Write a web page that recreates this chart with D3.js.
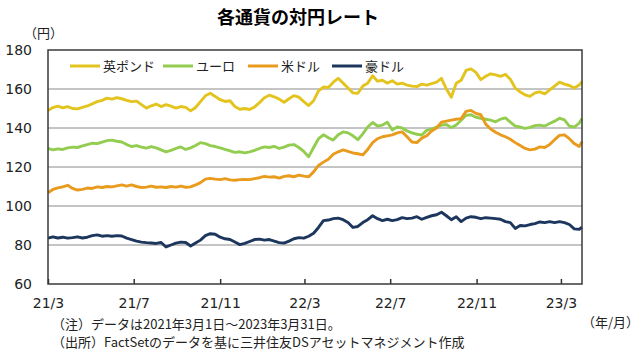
<!DOCTYPE html>
<html>
<head>
<meta charset="utf-8">
<script src="https://cdn.jsdelivr.net/npm/d3@7"></script>
<style>
  body { margin: 0; background: #fff; }
  svg { display: block; }
</style>
</head>
<body>
<svg id="chart"></svg>
<script>
// Weekly readings from 2021-03-01, last value is 2023-03-31
const startDate = new Date(2021, 2, 1);
const endDate = new Date(2023, 2, 31);

const seriesNames = ['英ポンド', 'ユーロ', '米ドル', '豪ドル'];

const gbp = [
  149.0, 150.5, 151.2, 150.3, 151.0, 150.0, 149.8, 150.6, 151.3, 152.4,
  153.5, 154.2, 155.3, 154.8, 155.6, 155.0, 154.2, 153.5, 153.8, 152.0,
  150.2, 151.4, 152.3, 151.0, 152.0, 151.2, 150.2, 151.0, 150.6, 148.8,
  150.5, 153.5, 156.5, 157.8, 156.2, 154.5, 153.6, 154.0, 151.0, 149.6,
  150.0, 149.5, 150.8, 153.0, 155.5, 156.8, 156.0, 154.8, 153.2, 155.0,
  156.6, 155.8, 153.5, 151.5, 154.0, 159.0, 161.0, 160.8, 163.5, 165.5,
  163.0, 160.5, 158.0, 157.8, 161.5, 163.0, 166.8, 164.0, 164.5, 163.0,
  164.2, 162.5, 163.0, 162.0, 161.5, 161.2, 162.5, 162.0, 162.8, 163.5,
  165.5, 160.0, 155.8, 163.0, 164.5, 169.5, 170.3, 168.5, 164.8, 166.5,
  167.8, 167.2, 166.5, 167.5, 165.0, 160.5, 158.5, 157.0, 156.2, 158.0,
  158.5, 157.5, 159.5, 161.5, 163.5, 162.5, 161.8, 160.5, 162.0, 163.8
];

const eur = [
  129.5, 128.8, 129.3, 129.0, 129.8, 130.2, 130.0, 130.8, 131.5, 132.2,
  132.0, 132.8, 133.5, 133.8, 133.2, 132.8, 131.5, 130.5, 131.0, 130.2,
  129.7, 130.5, 129.8, 128.8, 127.8, 128.5, 129.5, 130.3, 129.0, 129.8,
  131.0, 132.5, 132.0, 131.0, 130.5, 129.8, 129.0, 128.3, 127.5, 127.8,
  127.2, 127.8, 128.5, 129.5, 130.3, 130.0, 130.6, 129.5, 130.2, 131.2,
  131.5, 130.0, 128.0, 125.3, 130.0, 134.5, 136.5, 135.0, 133.8, 136.5,
  138.0, 137.5, 136.0, 134.0, 137.0, 140.5, 142.8, 141.0, 141.5, 143.0,
  139.0, 140.5, 140.0, 138.5, 137.5, 136.8, 136.4, 138.8, 139.5, 140.5,
  141.5, 141.8, 140.2, 141.5, 144.0, 146.5, 146.8, 145.5, 145.0, 144.5,
  144.0, 143.2, 144.5, 145.2, 143.0, 141.0, 140.5, 139.8, 140.3, 141.2,
  141.5, 141.0, 142.3, 143.5, 145.0, 144.2, 141.0, 140.5, 142.5, 144.8
];

const usd = [
  106.8, 108.5, 109.3, 109.8, 110.6, 109.0, 108.2, 108.5, 109.2, 109.0,
  109.8, 109.5, 110.0, 109.8, 110.3, 110.8, 110.2, 110.8, 110.0, 109.5,
  109.7, 110.2, 109.6, 109.8, 109.5, 110.0, 109.7, 110.2, 109.6, 109.8,
  110.8, 112.0, 113.8, 114.2, 113.8, 113.5, 114.0, 113.4, 113.2, 113.5,
  113.6, 113.5, 114.0, 114.5, 115.2, 114.8, 115.0, 114.3, 115.2, 115.5,
  115.0, 115.8, 115.3, 115.0, 117.5, 120.8, 122.5, 124.0, 126.5, 127.8,
  128.8, 128.0, 127.2, 126.8, 126.2, 129.0, 132.5, 134.5, 135.5, 136.0,
  136.5, 137.5, 138.0, 135.5, 132.8, 132.5, 134.8, 136.0, 138.5, 140.0,
  143.0, 143.5, 144.0, 144.5, 144.8, 148.5, 149.0, 147.5, 146.8, 142.0,
  139.5, 137.8, 136.5, 135.5, 134.2, 132.5, 131.0, 129.5, 128.8, 129.2,
  130.3, 130.0, 131.5, 134.0, 136.2, 136.5, 134.5, 132.0, 130.5, 133.0
];

const aud = [
  83.5, 84.2, 83.6, 84.0, 83.5, 83.8, 84.2, 83.6, 84.0, 84.8,
  85.2, 84.5, 84.8, 84.5, 84.8, 84.6, 83.5, 82.8, 82.0, 81.5,
  81.2, 81.0, 80.8, 81.3, 79.0, 80.0, 81.0, 81.5, 81.3, 79.5,
  81.0, 82.5, 84.8, 85.8, 85.5, 84.0, 83.2, 82.8, 81.5, 80.2,
  80.8, 81.8, 82.8, 83.0, 82.5, 82.8, 82.0, 81.2, 81.0, 82.0,
  83.2, 83.8, 83.5, 84.5, 86.0, 89.0, 92.5, 92.8, 93.5, 93.8,
  93.0, 91.5, 89.0, 89.5, 91.5, 93.0, 95.0, 93.5, 92.5, 93.2,
  92.5, 93.0, 94.0, 93.5, 93.8, 94.5, 93.2, 94.2, 95.0, 95.5,
  96.8, 95.0, 93.0, 94.5, 92.0, 93.8, 94.5, 94.2, 93.5, 94.0,
  93.8, 93.5, 93.2, 92.0, 91.5, 88.5, 90.0, 89.8, 90.5, 91.0,
  91.8, 91.5, 92.0, 91.5, 92.0, 91.5, 90.5, 88.3, 88.0, 89.2
];

const yTicks = [60, 80, 100, 120, 140, 160, 180];
const xTickDates = ['2021-03-01', '2021-07-01', '2021-11-01', '2022-03-01', '2022-07-01', '2022-11-01', '2023-03-01'];
const xTickLabels = ['21/3', '21/7', '21/11', '22/3', '22/7', '22/11', '23/3'];

const colors = ['#e3c41e', '#92cd50', '#e99b1e', '#1c365e'];

const W = 640, H = 353;
const plot = {left: 48, right: 582, top: 50, bottom: 284};
const jpFont = '"Noto Sans CJK JP", "Noto Sans", sans-serif';
const numFont = '"DejaVu Sans", sans-serif';

const svg = d3.select('#chart').attr('width', W).attr('height', H);

const dates = gbp.map((v, i) => i === gbp.length - 1 ? endDate : d3.timeDay.offset(startDate, i * 7));

const x = d3.scaleTime().domain([startDate, endDate]).range([plot.left, plot.right]);
const y = d3.scaleLinear().domain([60, 180]).range([plot.bottom, plot.top]);

// Title
svg.append('text')
    .attr('x', 298).attr('y', 24)
    .attr('text-anchor', 'middle')
    .style('font-family', jpFont)
    .style('font-size', '18px')
    .style('font-weight', 'bold')
    .text('各通貨の対円レート');

// grid lines
svg.append('g')
    .selectAll('line')
    .data(yTicks.filter(d => d > 60 && d < 180))
    .enter().append('line')
    .attr('x1', plot.left).attr('x2', plot.right)
    .attr('y1', d => y(d)).attr('y2', d => y(d))
    .attr('stroke', '#8a8a8a')
    .attr('stroke-width', 1);

// Y axis labels
svg.append('g')
    .call(d3.axisLeft(y).tickValues(yTicks).tickSize(0).tickPadding(0))
    .call(g => g.select('.domain').remove())
    .attr('transform', 'translate(32,0)')
    .selectAll('text')
    .style('font-family', numFont)
    .style('font-size', '14px')
    .attr('fill', '#222');

svg.append('text')
    .attr('x', 24).attr('y', 38)
    .style('font-family', jpFont)
    .style('font-size', '13px')
    .attr('fill', '#222')
    .text('（円）');

// X axis
const xTicks = xTickDates.map(d => d3.timeParse('%Y-%m-%d')(d));
svg.append('g')
    .attr('transform', `translate(0,${plot.bottom})`)
    .call(d3.axisBottom(x).tickValues(xTicks).tickSize(-5).tickPadding(14)
        .tickFormat((d, i) => xTickLabels[i]))
    .call(g => g.select('.domain').remove())
    .call(g => g.selectAll('line').attr('stroke', '#333').attr('stroke-width', 1.5))
    .selectAll('text')
    .style('font-family', numFont)
    .style('font-size', '14px')
    .attr('fill', '#222');

// Lines
const line = d3.line()
    .x((d, i) => x(dates[i]))
    .y(d => y(d));

[gbp, eur, usd, aud].forEach((s, k) => {
    svg.append('path')
        .datum(s)
        .attr('fill', 'none')
        .attr('stroke', colors[k])
        .attr('stroke-width', 2.9)
        .attr('stroke-linejoin', 'round')
        .attr('d', line);
});

// plot border
svg.append('rect')
    .attr('x', plot.left).attr('y', plot.top)
    .attr('width', plot.right - plot.left).attr('height', plot.bottom - plot.top)
    .attr('fill', 'none')
    .attr('stroke', '#3a3a3a')
    .attr('stroke-width', 1.5);

// Legend
const legendX = [70, 163, 248, 332];
const legend = svg.append('g');
seriesNames.forEach((name, k) => {
    legend.append('line')
        .attr('x1', legendX[k]).attr('x2', legendX[k] + 30)
        .attr('y1', 66).attr('y2', 66)
        .attr('stroke', colors[k])
        .attr('stroke-width', 3);
    legend.append('text')
        .attr('x', legendX[k] + 33).attr('y', 71)
        .style('font-family', jpFont)
        .style('font-size', '13px')
        .attr('fill', '#222')
        .text(name);
});

// Unit and footnotes
svg.append('text')
    .attr('x', 582).attr('y', 327)
    .style('font-family', jpFont)
    .style('font-size', '13px')
    .attr('fill', '#222')
    .text('（年/月）');

svg.append('text')
    .attr('x', 52).attr('y', 329)
    .style('font-family', jpFont)
    .style('font-size', '13px')
    .attr('fill', '#222')
    .text('（注）データは2021年3月1日～2023年3月31日。');

svg.append('text')
    .attr('x', 52).attr('y', 347)
    .style('font-family', jpFont)
    .style('font-size', '13px')
    .attr('fill', '#222')
    .text('（出所）FactSetのデータを基に三井住友DSアセットマネジメント作成');
</script>
</body>
</html>
